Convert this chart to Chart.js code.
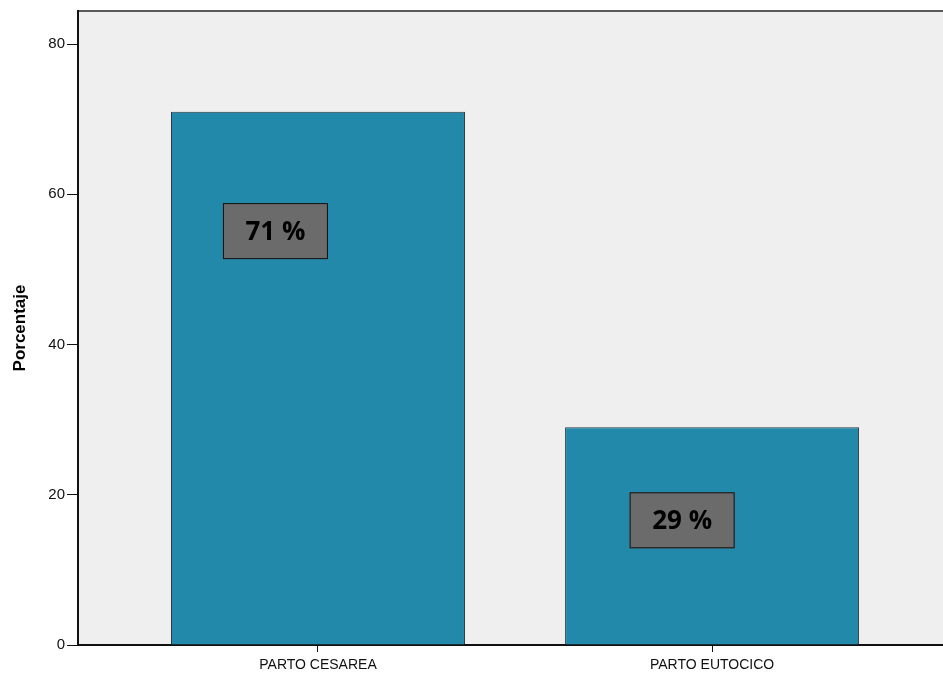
<!DOCTYPE html>
<html>
<head>
<meta charset="utf-8">
<script src="https://cdn.jsdelivr.net/npm/chart.js@4.4.0/dist/chart.umd.min.js"></script>
<style>
  html, body { margin: 0; padding: 0; background: #ffffff; overflow: hidden; }
  #wrap { width: 943px; height: 675px; }
</style>
</head>
<body>
<div id="wrap"><canvas id="myChart"></canvas></div>
<script>
// data
const categories = ["PARTO CESAREA", "PARTO EUTOCICO"];
const percentages = [71, 29];
const yTicks = [0, 20, 40, 60, 80];

let drawPartos = () => {
    var ctx = document.getElementById("myChart").getContext("2d");

    // grey plot background + top frame line
    const plotBg = {
        id: "plotBg",
        beforeDraw(chart) {
            const a = chart.chartArea;
            const c = chart.ctx;
            c.save();
            c.fillStyle = "#efefef";
            c.fillRect(a.left, a.top, a.right - a.left, a.bottom - a.top);
            c.strokeStyle = "#5a5a5a";
            c.lineWidth = 2;
            c.beginPath();
            c.moveTo(a.left, a.top);
            c.lineTo(a.right, a.top);
            c.stroke();
            c.restore();
        },
    };

    // the grey "71 %" / "29 %" boxes
    const boxOffsets = [-0.108, -0.076]; // x shift from bar centre, in category units
    const boxLevels = [55.1, 16.6];
    const percentBoxes = {
        id: "percentBoxes",
        afterDatasetsDraw(chart) {
            const c = chart.ctx;
            const xs = chart.scales.x;
            const ys = chart.scales.y;
            c.save();
            percentages.forEach((v, i) => {
                const cx = xs.getPixelForValue(i + 1 + boxOffsets[i]);
                const cy = ys.getPixelForValue(boxLevels[i]);
                const w = 105, h = 56;
                c.fillStyle = "#6b6b6b";
                c.fillRect(cx - w / 2, cy - h / 2, w, h);
                c.strokeStyle = "#111111";
                c.lineWidth = 1;
                c.strokeRect(cx - w / 2 + 0.5, cy - h / 2 + 0.5, w - 1, h - 1);
                c.fillStyle = "#000000";
                c.font = "bold 26px 'Open Sans', 'Liberation Sans', sans-serif";
                c.textAlign = "center";
                c.textBaseline = "middle";
                c.fillText(v + " %", cx, cy + 1);
            });
            c.restore();
        },
    };

    return new Chart(ctx, {
        type: "bar",
        data: {
            datasets: [
                {
                    label: "Porcentaje",
                    data: percentages.map((v, i) => ({ x: i + 1, y: v })),
                    backgroundColor: "#2389ab",
                    borderColor: "#2f3a3f",
                    borderWidth: 1,
                    borderSkipped: "bottom",
                    categoryPercentage: 1,
                    barPercentage: 0.746,
                },
            ],
        },
        options: {
            responsive: true,
            maintainAspectRatio: false,
            animation: false,
            layout: { padding: { top: 10, right: 0, left: 0, bottom: 0 } },
            plugins: {
                legend: { display: false },
                tooltip: { enabled: false },
            },
            scales: {
                x: {
                    type: "linear",
                    offset: false,
                    min: 0.391,
                    max: 2.586,
                    afterBuildTicks: (scale) => {
                        scale.ticks = categories.map((c, i) => ({ value: i + 1 }));
                    },
                    afterFit: (scale) => {
                        scale.height = 30;
                    },
                    ticks: {
                        callback: (v) => categories[v - 1] || "",
                        color: "#111111",
                        font: { family: "'Liberation Sans', Arial, sans-serif", size: 14 },
                        padding: 5,
                        maxRotation: 0,
                        autoSkip: false,
                    },
                    grid: {
                        offset: false,
                        drawOnChartArea: false,
                        drawTicks: true,
                        tickLength: 7,
                        color: "#111111",
                    },
                    border: { color: "#111111", width: 2 },
                },
                y: {
                    min: 0,
                    max: 84.4,
                    afterBuildTicks: (scale) => {
                        scale.ticks = yTicks.map((t) => ({ value: t }));
                    },
                    afterFit: (scale) => {
                        scale.width = 78;
                    },
                    ticks: {
                        color: "#111111",
                        font: { family: "'Liberation Sans', Arial, sans-serif", size: 15 },
                        padding: 2,
                    },
                    grid: {
                        drawOnChartArea: false,
                        drawTicks: true,
                        tickLength: 11,
                        color: "#111111",
                    },
                    border: { color: "#111111", width: 2 },
                    title: {
                        display: true,
                        text: "Porcentaje",
                        color: "#000000",
                        font: { family: "'Liberation Sans', Arial, sans-serif", size: 17, weight: "bold" },
                        padding: { top: 10, bottom: 10 },
                    },
                },
            },
        },
        plugins: [plotBg, percentBoxes],
    });
};
drawPartos();
</script>
</body>
</html>
